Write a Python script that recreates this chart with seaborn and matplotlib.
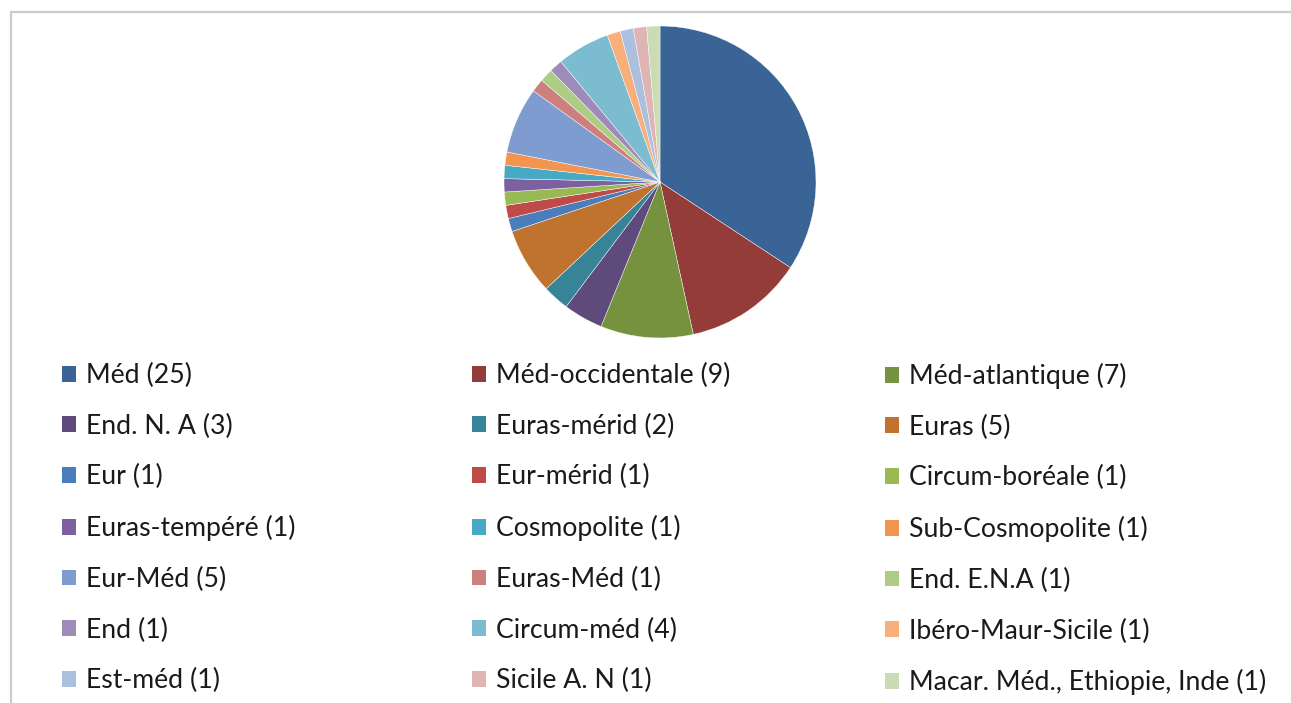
import matplotlib
matplotlib.use("Agg")
import matplotlib.pyplot as plt
import seaborn as sns
from matplotlib.patches import Patch
from matplotlib.lines import Line2D

categories = ["Méd", "Méd-occidentale", "Méd-atlantique", "End. N. A", "Euras-mérid", "Euras",
              "Eur", "Eur-mérid", "Circum-boréale", "Euras-tempéré", "Cosmopolite", "Sub-Cosmopolite",
              "Eur-Méd", "Euras-Méd", "End. E.N.A", "End", "Circum-méd", "Ibéro-Maur-Sicile",
              "Est-méd", "Sicile A. N", "Macar. Méd., Ethiopie, Inde"]
counts = [25, 9, 7, 3, 2, 5, 1, 1, 1, 1, 1, 1, 5, 1, 1, 1, 4, 1, 1, 1, 1]
colors = ["#3B6496", "#943C39", "#77923F", "#5F4B7B", "#378397", "#C0722F",
          "#4A7EBB", "#BE4B48", "#98B954", "#7D60A0", "#46AAC5", "#F39550",
          "#7E9CCF", "#CD7F7E", "#ADCC84", "#9F8BBA", "#7BBCD1", "#F9AF7C",
          "#ABBFDF", "#DEB5B4", "#C9DCB3"]

sns.set_theme(style="white")
plt.rcParams['font.family'] = ['Lato', 'DejaVu Sans']

W, H = 1291, 703
fig = plt.figure(figsize=(W / 100, H / 100), dpi=100)
fig.patch.set_facecolor("white")

# frame lines (top and left)
fig.add_artist(Line2D([11 / W, 1.0], [1 - 12 / H, 1 - 12 / H], color="#cccccc", lw=1.6))
fig.add_artist(Line2D([11 / W, 11 / W], [0, 1 - 12 / H], color="#cccccc", lw=1.6))

# pie axes
cx, cy, r = 660, 182, 156
ax = fig.add_axes([(cx - r) / W, 1 - (cy + r) / H, 2 * r / W, 2 * r / H])
ax.pie(counts, colors=colors, startangle=90, counterclock=False,
       wedgeprops=dict(linewidth=0.3, edgecolor="white"))
ax.set_aspect("equal")
ax.set_xlim(-1, 1)
ax.set_ylim(-1, 1)
ax.axis("off")

labels = [f"{c} ({n})" for c, n in zip(categories, counts)]
fs = 19.2
col_x = [62, 472, 885]
for col in range(3):
    idx = list(range(col, len(labels), 3))
    handles = [Patch(facecolor=colors[i], edgecolor="none") for i in idx]
    labs = [labels[i] for i in idx]
    leg = fig.legend(handles, labs, loc="upper left",
                     bbox_to_anchor=(col_x[col] / W, 1 - 363 / H),
                     frameon=False, fontsize=fs, handlelength=0.53, handleheight=0.53,
                     handletextpad=0.38, labelspacing=0.96, borderpad=0, borderaxespad=0)
    for t in leg.get_texts():
        t.set_color("#1a1a1a")

fig.savefig("out.png", dpi=100, facecolor="white")
